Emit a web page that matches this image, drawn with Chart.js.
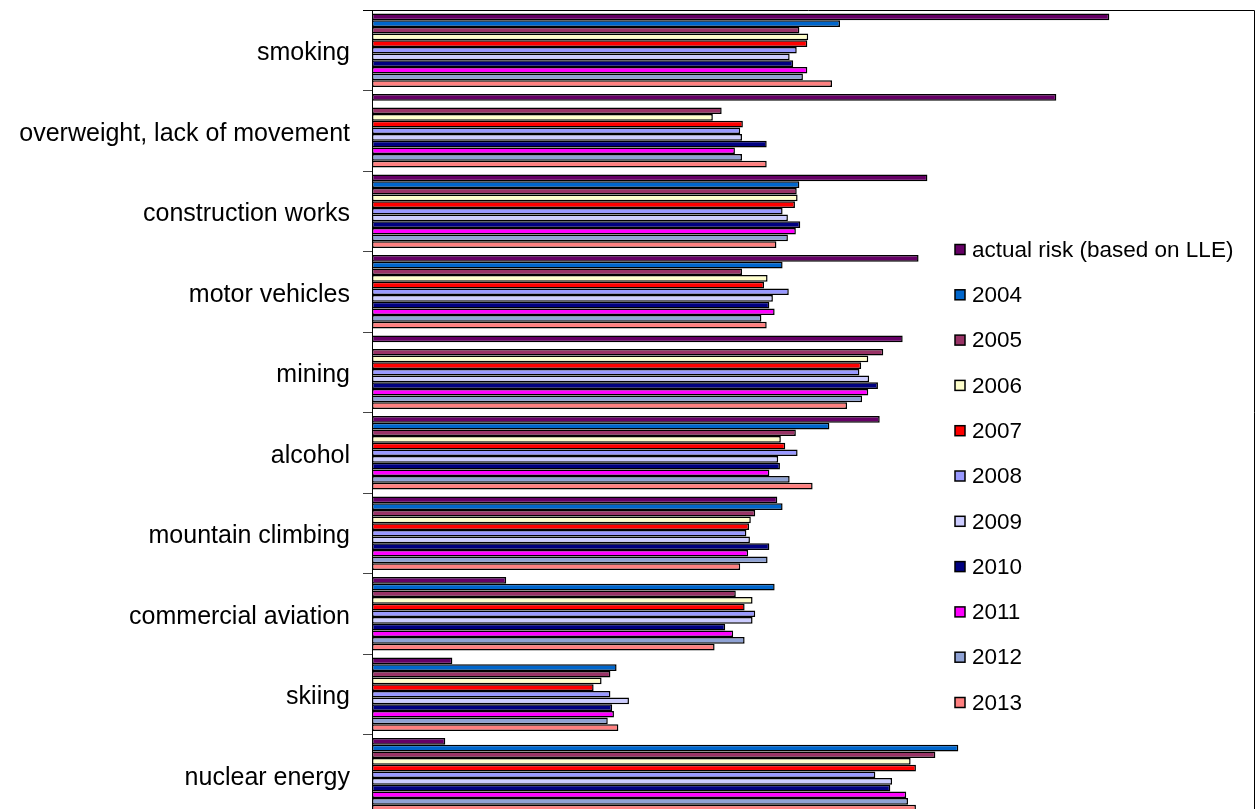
<!DOCTYPE html>
<html>
<head>
<meta charset="utf-8">
<script src="https://cdn.jsdelivr.net/npm/chart.js@4/dist/chart.umd.min.js"></script>
<style>
  html, body { margin: 0; padding: 0; background: #fff; overflow: hidden; }
  #wrap { width: 1259px; height: 822px; }
</style>
</head>
<body>
<div id="wrap"><canvas id="c" width="1259" height="822"></canvas></div>
<script>
// Risk categories, top to bottom
const categories = [
  'smoking', 'overweight, lack of movement', 'construction works', 'motor vehicles',
  'mining', 'alcohol', 'mountain climbing', 'commercial aviation', 'skiing', 'nuclear energy'
];

const seriesNames = [
  'actual risk (based on LLE)', '2004', '2005', '2006', '2007', '2008',
  '2009', '2010', '2011', '2012', '2013'
];

const seriesColors = [
  '#660066', '#0066CC', '#993366', '#FFFFCC', '#FF0000', '#9999FF',
  '#CCCCFF', '#000080', '#FF00FF', '#8FA2D4', '#FF8080'
];

// Values per series, in category order (null = no survey value)
const actualRisk = [83.5, 77.5, 62.9, 61.9, 60.1, 57.5, 45.9, 15.2, 9.1, 8.3];
const y2004 = [53.0, null, 48.4, 46.5, null, 51.8, 46.5, 45.6, 27.7, 66.4];
const y2005 = [48.4, 39.6, 48.1, 41.9, 57.9, 48.0, 43.4, 41.2, 27.0, 63.8];
const y2006 = [49.4, 38.6, 48.2, 44.8, 56.2, 46.3, 42.9, 43.1, 26.0, 61.0];
const y2007 = [49.3, 42.0, 47.9, 44.4, 55.4, 46.8, 42.7, 42.2, 25.1, 61.6];
const y2008 = [48.1, 41.7, 46.5, 47.2, 55.2, 48.2, 42.4, 43.4, 27.0, 57.0];
const y2009 = [47.3, 41.9, 47.1, 45.4, 56.3, 46.0, 42.8, 43.1, 29.1, 58.9];
const y2010 = [47.7, 44.7, 48.5, 45.0, 57.3, 46.2, 45.0, 40.0, 27.2, 58.7];
const y2011 = [49.3, 41.1, 48.0, 45.6, 56.2, 45.0, 42.6, 40.9, 27.4, 60.5];
const y2012 = [48.8, 41.9, 47.1, 44.1, 55.5, 47.3, 44.8, 42.2, 26.7, 60.7];
const y2013 = [52.1, 44.7, 45.8, 44.7, 53.8, 49.9, 41.7, 38.8, 27.9, 61.6];

const seriesValues = [actualRisk, y2004, y2005, y2006, y2007, y2008, y2009, y2010, y2011, y2012, y2013];

const FONT = '"Liberation Sans", Arial, sans-serif';

// Frame along the top and right of the plot area
const plotFrame = {
  id: 'plotFrame',
  afterDraw(chart) {
    const { ctx, chartArea: a } = chart;
    ctx.save();
    ctx.strokeStyle = '#000';
    ctx.lineWidth = 1;
    ctx.beginPath();
    ctx.moveTo(a.left - 9, a.top + 0.5);
    ctx.lineTo(a.right - 0.5, a.top + 0.5);
    ctx.lineTo(a.right - 0.5, a.bottom);
    ctx.stroke();
    ctx.restore();
  }
};

// Legend drawn inside the plot area, on the right
const insideLegend = {
  id: 'insideLegend',
  afterDraw(chart) {
    const { ctx } = chart;
    const x0 = 955, yStart = 249.5, step = 45.3, box = 10;
    ctx.save();
    ctx.font = '22.5px ' + FONT;
    ctx.textBaseline = 'middle';
    ctx.textAlign = 'left';
    chart.data.datasets.forEach((ds, i) => {
      const yc = yStart + i * step;
      ctx.fillStyle = ds.backgroundColor;
      ctx.fillRect(x0, yc - box / 2, box, box);
      ctx.strokeStyle = '#000';
      ctx.lineWidth = 1.5;
      ctx.strokeRect(x0, yc - box / 2, box, box);
      ctx.fillStyle = '#000';
      ctx.fillText(ds.label, x0 + 17, yc + 1);
    });
    ctx.restore();
  }
};

const datasets = seriesNames.map((name, i) => ({
  label: name,
  data: seriesValues[i],
  backgroundColor: seriesColors[i],
  borderColor: '#000',
  borderWidth: 1.5,
  borderSkipped: false,
  categoryPercentage: 0.91,
  barPercentage: 1.0
}));

new Chart(document.getElementById('c'), {
  type: 'bar',
  data: { labels: categories, datasets },
  options: {
    indexAxis: 'y',
    responsive: false,
    animation: false,
    devicePixelRatio: 1,
    layout: { padding: { top: 10, right: 4, bottom: 7, left: 0 } },
    plugins: {
      legend: { display: false },
      tooltip: { enabled: false }
    },
    scales: {
      x: {
        display: false,
        min: 0,
        max: 100
      },
      y: {
        afterFit(scale) {
          scale.width = 372;
          scale.paddingTop = 0;
          scale.paddingBottom = 0;
        },
        border: { display: true, color: '#000', width: 1 },
        grid: {
          offset: true,
          drawOnChartArea: false,
          drawTicks: true,
          tickLength: 9,
          color: '#444'
        },
        ticks: {
          color: '#000',
          padding: 13,
          labelOffset: 3,
          font: { family: FONT, size: 25 }
        }
      }
    }
  },
  plugins: [plotFrame, insideLegend]
});
</script>
</body>
</html>
